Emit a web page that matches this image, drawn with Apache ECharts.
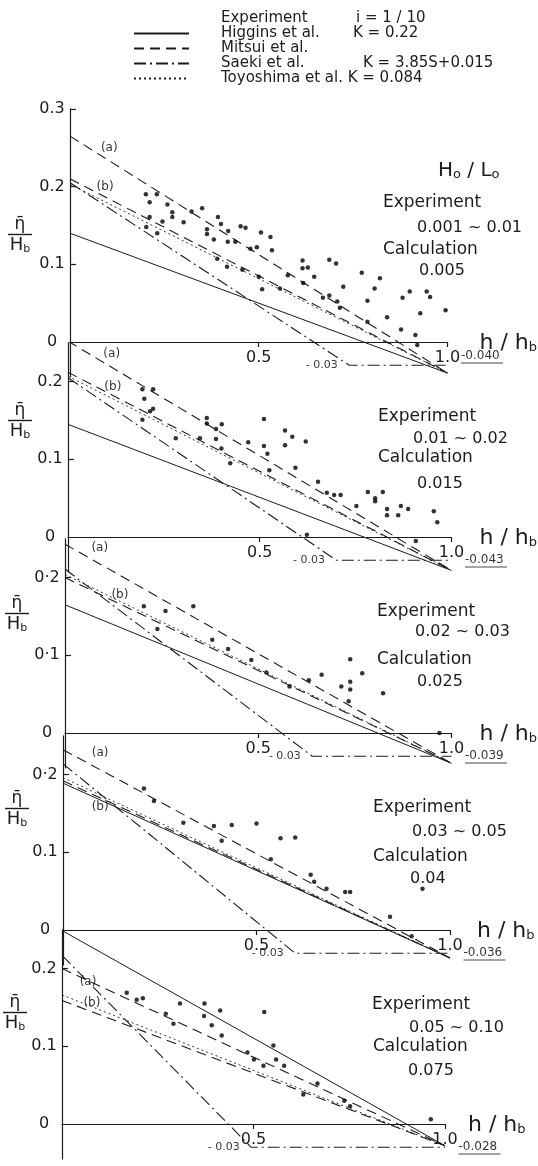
<!DOCTYPE html>
<html><head><meta charset="utf-8">
<script src="https://cdn.jsdelivr.net/npm/echarts@6/dist/echarts.min.js"></script>
<style>html,body{margin:0;padding:0;background:#fff}#c{width:538px;height:1166px}</style>
</head><body><div id="c"></div>
<script>
// ---------------- data ----------------
const expRanges = ['0.001 ~ 0.01', '0.01 ~ 0.02', '0.02 ~ 0.03', '0.03 ~ 0.05', '0.05 ~ 0.10'];
const calcSteepness = ['0.005', '0.015', '0.025', '0.04', '0.075'];
const xTicks = [0.5, 1.0];
const yTickValues = [[0, 0.1, 0.2, 0.3], [0, 0.1, 0.2], [0, 0.1, 0.2], [0, 0.1, 0.2], [0, 0.1, 0.2]];
const yTickLabels = [['0', '0.1', '0.2', '0.3'], ['0', '0.1', '0.2'], ['0', '0·1', '0·2'], ['0', '0.1', '0·2'], ['0', '0.1', '0.2']];
const legendNames = ['Experiment', 'Higgins et al.', 'Mitsui et al.', 'Saeki et al.', 'Toyoshima et al.'];
const legendNotes = ['i = 1 / 10', 'K = 0.22', '', 'K = 3.85S+0.015', 'K = 0.084'];

// calculated lines: value at h/hb = 0 and common end value at h/hb = 1.0
const endValues    = [-0.040, -0.043, -0.039, -0.036, -0.028];
const higginsStart = [0.140, 0.145, 0.165, 0.189, 0.249];
const mitsuiAStart = [0.265, 0.252, 0.243, 0.232, 0.200];
const mitsuiBStart = [0.210, 0.212, 0.200, 0.192, 0.159];
const saekiStart   = [0.205, 0.205, 0.211, 0.214, 0.217];
const saekiKneeX   = [0.74, 0.70, 0.64, 0.60, 0.494];
const saekiFloor   = -0.03;
const toyoStart    = [0.203, 0.207, 0.204, 0.196, 0.166];

// experiment points [h/hb, eta/Hb]
const exp1 = [[0.201,0.190],[0.230,0.190],[0.211,0.180],[0.258,0.177],[0.271,0.167],[0.271,0.161],[0.211,0.161],[0.245,0.155],[0.301,0.154],[0.322,0.168],[0.350,0.172],[0.392,0.161],[0.400,0.152],[0.363,0.145],[0.363,0.139],[0.381,0.132],[0.419,0.143],[0.418,0.129],[0.438,0.129],[0.452,0.149],[0.465,0.147],[0.506,0.141],[0.531,0.135],[0.535,0.118],[0.478,0.120],[0.495,0.122],[0.202,0.148],[0.231,0.140],[0.390,0.107],[0.416,0.097],[0.457,0.093],[0.500,0.084],[0.509,0.068],[0.556,0.069],[0.577,0.086],[0.616,0.105],[0.616,0.095],[0.630,0.096],[0.647,0.084],[0.618,0.076],[0.687,0.106],[0.705,0.101],[0.724,0.071],[0.687,0.060],[0.670,0.057],[0.708,0.052],[0.715,0.044],[0.773,0.089],[0.821,0.082],[0.807,0.069],[0.788,0.053],[0.788,0.026],[0.840,0.032],[0.881,0.057],[0.900,0.065],[0.945,0.065],[0.954,0.058],[0.928,0.037],[0.877,0.016],[0.915,0.009],[0.995,0.041],[0.920,-0.004]];
const exp2 = [[0.194,0.190],[0.222,0.190],[0.199,0.178],[0.214,0.162],[0.222,0.165],[0.194,0.151],[0.281,0.127],[0.344,0.127],[0.362,0.153],[0.362,0.146],[0.386,0.139],[0.386,0.126],[0.401,0.145],[0.400,0.114],[0.423,0.095],[0.470,0.122],[0.511,0.152],[0.511,0.117],[0.520,0.107],[0.566,0.137],[0.585,0.129],[0.620,0.123],[0.566,0.118],[0.525,0.086],[0.593,0.089],[0.652,0.071],[0.675,0.057],[0.694,0.054],[0.711,0.054],[0.752,0.040],[0.782,0.058],[0.801,0.050],[0.801,0.046],[0.821,0.058],[0.832,0.036],[0.832,0.028],[0.861,0.028],[0.868,0.040],[0.887,0.036],[0.954,0.033],[0.963,0.019],[0.623,0.003],[0.907,-0.005]];
const exp3 = [[0.204,0.163],[0.260,0.157],[0.332,0.163],[0.239,0.134],[0.381,0.120],[0.422,0.108],[0.482,0.094],[0.521,0.078],[0.631,0.068],[0.664,0.075],[0.581,0.060],[0.715,0.060],[0.738,0.095],[0.738,0.066],[0.738,0.056],[0.734,0.041],[0.769,0.077],[0.823,0.051],[0.969,0.000]];
const exp4 = [[0.209,0.182],[0.235,0.166],[0.311,0.138],[0.390,0.134],[0.410,0.115],[0.436,0.135],[0.500,0.137],[0.562,0.118],[0.600,0.119],[0.537,0.091],[0.640,0.071],[0.649,0.062],[0.681,0.053],[0.729,0.049],[0.742,0.049],[0.845,0.017],[0.901,-0.008],[0.929,0.053]];
const exp5 = [[0.169,0.169],[0.195,0.160],[0.211,0.162],[0.271,0.142],[0.291,0.129],[0.308,0.155],[0.372,0.155],[0.371,0.139],[0.391,0.127],[0.413,0.146],[0.417,0.114],[0.484,0.092],[0.501,0.083],[0.526,0.075],[0.528,0.144],[0.552,0.101],[0.559,0.083],[0.580,0.075],[0.667,0.052],[0.630,0.038],[0.737,0.030],[0.752,0.023],[0.963,0.006]];
const expData = [exp1, exp2, exp3, exp4, exp5];

// ---------------- layout ----------------
const INK = '#1c1c1c';
const FONT = '"DejaVu Sans", sans-serif';
const S = 777;          // px per unit of eta/Hb
const YMIN = -0.045;
const panels = [
  {left: 70, width: 386, zeroY: 342,  max: 0.30, nameGap: 32, endDy: 13, frac: [20, 235]},
  {left: 68, width: 386, zeroY: 537,  max: 0.25, nameGap: 28, endDy: 22, frac: [20, 421]},
  {left: 65, width: 387, zeroY: 733,  max: 0.25, nameGap: 28, endDy: 22, frac: [17, 614]},
  {left: 63, width: 387, zeroY: 930,  max: 0.25, nameGap: 27, endDy: 22, frac: [17, 809]},
  {left: 62, width: 383, zeroY: 1124, max: 0.25, nameGap: 23, endDy: 22, frac: [15, 1013]}
];
// (a)/(b) tag anchor positions (data coords)
const tagPos = [
  [[0.104, 0.250], [0.093, 0.200]],
  [[0.114, 0.236], [0.117, 0.193]],
  [[0.090, 0.238], [0.142, 0.178]],
  [[0.096, 0.228], [0.096, 0.158]],
  [[0.068, 0.183], [0.078, 0.156]]
];
// right-hand notes: [xExp, xRange, xCalc, xVal], [yExp, yRange, yCalc, yVal]
const notePos = [
  [[383, 417, 383, 419], [203, 228, 250, 271]],
  [[378, 413, 378, 417], [417, 439, 458, 484]],
  [[377, 415, 377, 417], [612, 632, 660, 682]],
  [[373, 412, 373, 410], [808, 832, 857, 879]],
  [[372, 409, 373, 408], [1005, 1028, 1047, 1071]]
];

const DASH = [10, 6], DASHDOT = [12, 4, 2, 4], DOT = [2, 3];

const grid = [], xAxis = [], yAxis = [], series = [], graphic = [];

function lineSeries(name, i, data, type, width) {
  return {type: 'line', name, xAxisIndex: i, yAxisIndex: i, data, symbol: 'none', silent: true,
    itemStyle: {color: INK}, lineStyle: {color: INK, width: width || 1, type: type || 'solid'}, z: 2};
}

panels.forEach((p, i) => {
  grid.push({left: p.left, width: p.width, top: p.zeroY - p.max * S, height: (p.max - YMIN) * S, containLabel: false});
  xAxis.push({
    gridIndex: i, type: 'value', min: 0, max: 1, position: 'bottom', offset: YMIN * S,
    axisLine: {onZero: false, lineStyle: {color: INK, width: 1.2}},
    axisTick: {show: true, length: 5, customValues: xTicks, lineStyle: {color: INK, width: 1.2}},
    axisLabel: {customValues: xTicks, formatter: v => v.toFixed(1), margin: 8, fontSize: 16, fontFamily: FONT, color: INK},
    splitLine: {show: false},
    name: '{m|h / h}{s|b}', nameLocation: 'end', nameGap: p.nameGap,
    nameTextStyle: {color: INK, fontFamily: FONT, fontSize: 22,
      rich: {m: {fontSize: 22, fontFamily: FONT, color: INK, lineHeight: 24, verticalAlign: 'bottom'},
             s: {fontSize: 13, fontFamily: FONT, color: INK, lineHeight: 24, verticalAlign: 'bottom'}}}
  });
  const tv = yTickValues[i], tl = yTickLabels[i];
  yAxis.push({
    gridIndex: i, type: 'value', min: YMIN, max: p.max,
    axisLine: {show: true, onZero: false, lineStyle: {color: INK, width: 1.2}},
    axisTick: {show: true, inside: true, length: 6, customValues: tv.filter(v => v > 0), lineStyle: {color: INK, width: 1.2}},
    axisLabel: {customValues: tv, formatter: v => tl[tv.findIndex(t => Math.abs(t - v) < 1e-6)] || '',
      align: 'center', margin: 18, fontSize: 16, fontFamily: FONT, color: INK},
    splitLine: {show: false}
  });

  const end = endValues[i];
  series.push(lineSeries('Higgins et al.', i, [[0, higginsStart[i]], [1, end]], 'solid', 1));
  series.push(lineSeries('Mitsui et al.', i, [[0, mitsuiAStart[i]], [1, end]], DASH, 1.1));
  series.push(lineSeries('Mitsui et al.', i, [[0, mitsuiBStart[i]], [1, end]], DASH, 1.1));
  series.push(lineSeries('Saeki et al.', i, [[0, saekiStart[i]], [saekiKneeX[i], saekiFloor], [1, saekiFloor]], DASHDOT, 1.1));
  series.push(lineSeries('Toyoshima et al.', i, [[0, toyoStart[i]], [1, end]], DOT, 0.9));
  series.push({type: 'scatter', name: 'Experiment', xAxisIndex: i, yAxisIndex: i, data: expData[i],
    symbol: 'circle', symbolSize: 4.5, itemStyle: {color: '#000'}, silent: true, z: 3});

  const lbl = (extra) => Object.assign({show: true, color: '#000', fontFamily: FONT}, extra);
  series.push({type: 'scatter', name: 'notes', xAxisIndex: i, yAxisIndex: i, symbol: 'circle', symbolSize: 1,
    itemStyle: {color: 'rgba(0,0,0,0)'}, silent: true, z: 4,
    data: [
      {value: [1, end], label: lbl({position: 'right', distance: 13, offset: [0, p.endDy + end * S + 1],
        formatter: '{v|' + end.toFixed(3) + '}\n{u|}',
        rich: {v: {fontSize: 12, lineHeight: 14, fontFamily: FONT, color: '#000'},
               u: {width: 42, height: 1, backgroundColor: INK}}})},
      {value: [saekiKneeX[i], saekiFloor], label: lbl({position: 'left', distance: 11, fontSize: 11,
        formatter: '- ' + Math.abs(saekiFloor).toFixed(2)})},
      {value: tagPos[i][0], label: lbl({position: 'inside', fontSize: 12, formatter: '(a)'})},
      {value: tagPos[i][1], label: lbl({position: 'inside', fontSize: 12, formatter: '(b)'})}
    ]});

  // right-hand notes
  const np = notePos[i];
  const texts = [['Experiment', 17], [expRanges[i], 16], ['Calculation', 17], [calcSteepness[i], 16]];
  texts.forEach((t, k) => graphic.push({type: 'text', x: np[0][k], y: np[1][k], silent: true,
    style: {text: t[0], fontSize: t[1], fontFamily: FONT, fill: INK, verticalAlign: 'middle'}}));
  // y-axis fraction label
  graphic.push({type: 'text', x: p.frac[0], y: p.frac[1], silent: true,
    style: {text: '{e|η̄}\n{bar|}\n{h|H}{s|b}', align: 'center', verticalAlign: 'middle', fill: INK,
      rich: {e: {fontSize: 17, fontFamily: FONT, lineHeight: 18, fill: INK},
             bar: {width: 24, height: 1.4, backgroundColor: INK},
             h: {fontSize: 18, fontFamily: FONT, lineHeight: 19, fill: INK, verticalAlign: 'bottom'},
             s: {fontSize: 11, fontFamily: FONT, lineHeight: 19, fill: INK, verticalAlign: 'bottom'}}}});
});

graphic.push({type: 'text', x: 438, y: 170, silent: true,
  style: {text: '{a|H}{b|o}{a| / L}{b|o}', verticalAlign: 'middle', fill: INK,
    rich: {a: {fontSize: 20, fontFamily: FONT, lineHeight: 22, verticalAlign: 'bottom', fill: INK},
           b: {fontSize: 13, fontFamily: FONT, lineHeight: 22, verticalAlign: 'bottom', fill: INK}}}});

const nameStyle = {'Experiment': 'w0', 'Higgins et al.': 'w1', 'Mitsui et al.': 'w1', 'Saeki et al.': 'w2', 'Toyoshima et al.': 'w3'};

const option = {
  animation: false,
  backgroundColor: '#fff',
  grid, xAxis, yAxis, series, graphic,
  legend: {
    left: 128, top: 6, orient: 'vertical', itemWidth: 55, itemHeight: 12, itemGap: 0, selectedMode: false,
    itemStyle: {color: 'rgba(0,0,0,0)', borderColor: 'rgba(0,0,0,0)', borderWidth: 0},
    data: legendNames.map((n, k) => k === 0 ? {name: n, icon: 'none'} : n),
    formatter: name => '{sp|}{' + nameStyle[name] + '|' + name + (nameStyle[name] === 'w3' ? ' ' : '') + '}{k|' + legendNotes[legendNames.indexOf(name)] + '}',
    textStyle: {fontFamily: FONT, fontSize: 15, color: INK, lineHeight: 15,
      rich: {sp: {width: 27}, w0: {width: 135}, w1: {width: 132}, w2: {width: 142}, w3: {}, k: {}}}
  }
};

const chart = echarts.init(document.getElementById('c'), null, {renderer: 'canvas'});
chart.setOption(option);
</script>
</body></html>
